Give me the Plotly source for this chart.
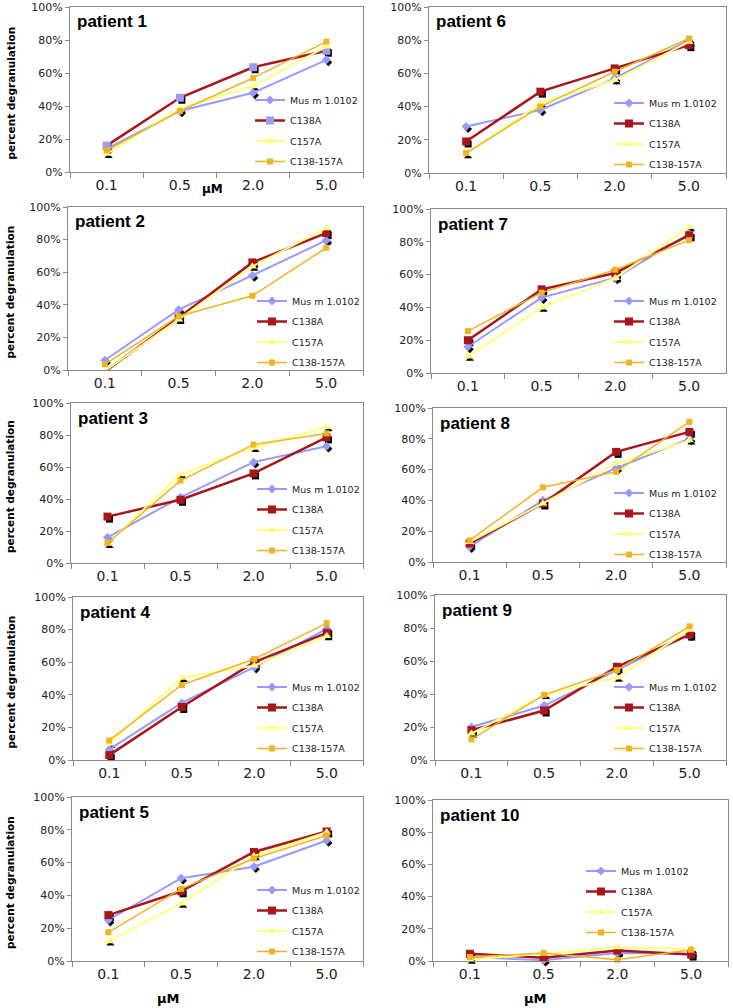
import plotly.graph_objects as go

# ---------------- data ----------------
concentrations = ["0.1", "0.5", "2.0", "5.0"]
series_names = ["Mus m 1.0102", "C138A", "C157A", "C138-157A"]
patients = ["patient 1", "patient 2", "patient 3", "patient 4", "patient 5",
            "patient 6", "patient 7", "patient 8", "patient 9", "patient 10"]

# percent degranulation, one row per patient (patient 1 .. patient 10)
mus_m = [
    [14, 37, 48, 68],
    [6, 37, 58, 79.5],
    [16, 41, 63, 73],
    [6.5, 35, 57, 80.5],
    [25, 50.5, 57.5, 73.5],
    [28, 38, 57, 80],
    [16, 46, 58, 85],
    [10, 40, 61, 80],
    [20, 33, 54.5, 76],
    [2.5, 0.5, 5, 4.5],
]
c138a = [
    [16, 45, 63.5, 73.5],
    [-1, 32, 66, 84],
    [29, 39.5, 56, 78.5],
    [3, 32.5, 60, 78],
    [28, 42.5, 66.5, 79],
    [19, 49, 63, 77],
    [20, 51, 61, 84],
    [12, 38, 71.5, 84.5],
    [18, 30, 56.5, 76],
    [4.5, 2, 6.5, 4],
]
c157a = [
    [11, 38.5, 52, 76],
    [-0.5, 31, 63.5, 87],
    [12, 55.5, 72, 85],
    [10, 50.5, 58, 76],
    [12, 35, 64, 78.5],
    [11.5, 42, 56, 79],
    [10, 40, 58, 89],
    [13, 38, 64, 79],
    [16, 39.5, 50, 79],
    [1, 4.5, 8.5, 7.5],
]
c138_157a = [
    [13, 37, 57, 79],
    [3.5, 33, 45.5, 75],
    [12.5, 51.5, 74, 81],
    [12, 46, 62, 84],
    [17.5, 44, 62.5, 76.5],
    [12, 40, 61, 81],
    [25.5, 49, 63, 81],
    [14, 48.5, 58.5, 91],
    [12.5, 39.5, 54.5, 81],
    [2.5, 5, 0.8, 7],
]
all_series = [mus_m, c138a, c157a, c138_157a]

# ---------------- styles / layout ----------------
W, H = 733, 1008
colors = ["#9999FF", "#A8161C", "#FFFF80", "#F0B420"]
symbols = ["diamond", "square", "triangle-up", "square"]
msizes = [7, 8, 8, 6]
lwidths = [2, 2.5, 2, 1.5]
shadow_series = [True, True, True, False]

# plot-area boxes in pixels: left, right, top, bottom
panel_boxes = [
    (70, 363, 7, 172), (68, 363, 207, 370), (71, 363, 403, 563),
    (73, 363, 597, 760), (72, 363, 797, 961),
    (429, 726, 7, 173), (431, 726, 209, 373), (433, 726, 408, 562),
    (435, 726, 595, 760), (433, 728, 800, 961),
]
# legend: text left x, first item centre y (pixels)
legend_pos = [(290, 101), (292, 302), (292, 490), (292, 688), (292, 891),
              (649, 104), (649, 302), (649, 494), (649, 688), (621, 872)]

FONT = "DejaVu Sans"
AX = "#8a8a8a"


def axname(kind, idx):
    return f"{kind}axis" if idx == 1 else f"{kind}axis{idx}"


def axref(kind, idx):
    return kind if idx == 1 else f"{kind}{idx}"


fig = go.Figure()
layout = dict(
    width=W, height=H, margin=dict(l=0, r=0, t=0, b=0, pad=0, autoexpand=False),
    paper_bgcolor="white", plot_bgcolor="rgba(0,0,0,0)",
    font=dict(family=FONT, color="#222"),
    showlegend=True,
)
annotations = []

for p in range(10):
    l, r, t, b = panel_boxes[p]
    sh = p + 1       # shadow subplot (drawn first, underneath)
    mn = p + 11      # main subplot
    dx, dy = 2, 2.5
    layout[axname("x", sh)] = dict(
        domain=[(l + dx) / W, (r + dx) / W], anchor=axref("y", sh),
        type="category", categoryarray=concentrations, range=[-0.5, 3.5],
        visible=False)
    layout[axname("y", sh)] = dict(
        domain=[1 - (b + dy) / H, 1 - (t + dy) / H], anchor=axref("x", sh),
        range=[0, 100], visible=False)
    layout[axname("x", mn)] = dict(
        domain=[l / W, r / W], anchor=axref("y", mn),
        type="category", categoryarray=concentrations, range=[-0.5, 3.5],
        showline=True, linecolor=AX, linewidth=1, mirror=True,
        ticks="outside", tickson="boundaries", ticklen=5, tickcolor=AX,
        tickfont=dict(size=14, color="#222", family=FONT),
        showgrid=False, zeroline=False, fixedrange=True, automargin=False)
    layout[axname("y", mn)] = dict(
        domain=[1 - b / H, 1 - t / H], anchor=axref("x", mn),
        range=[0, 100], dtick=20, ticksuffix="%",
        showline=True, linecolor=AX, linewidth=1, mirror=True,
        ticks="outside", ticklen=4, tickcolor=AX,
        tickfont=dict(size=11, color="#222", family=FONT),
        showgrid=False, zeroline=False, fixedrange=True, automargin=False)

    lg = "legend" if p == 0 else f"legend{p + 1}"
    tx, ty = legend_pos[p]
    layout[lg] = dict(
        x=(tx - 40) / W, y=1 - (ty - 15.5) / H, xanchor="left", yanchor="top",
        xref="paper", yref="paper", bgcolor="rgba(0,0,0,0)",
        font=dict(family=FONT, size=9.5, color="#222"),
        tracegroupgap=1.5, traceorder="grouped", itemwidth=30)

    for s in range(4):
        yvals = all_series[s][p]
        if shadow_series[s]:
            fig.add_trace(go.Scatter(
                x=concentrations, y=yvals, mode="markers",
                xaxis=axref("x", sh), yaxis=axref("y", sh),
                marker=dict(symbol=symbols[s], size=msizes[s] - 1, color="black"),
                showlegend=False, hoverinfo="skip", cliponaxis=False))

for p in range(10):
    mn = p + 11
    lg = "legend" if p == 0 else f"legend{p + 1}"
    for s in range(4):
        yvals = all_series[s][p]
        mcolor = colors[s]
        if p == 0 and s == 1:
            mcolor = "#9C9CF2"  # patient 1: C138A markers appear lavender
        fig.add_trace(go.Scatter(
            x=concentrations, y=yvals, mode="lines+markers", name=series_names[s],
            xaxis=axref("x", mn), yaxis=axref("y", mn),
            line=dict(color=colors[s], width=lwidths[s]),
            marker=dict(symbol=symbols[s], size=msizes[s], color=mcolor),
            legend=lg, legendgroup=f"p{p}_{s}", cliponaxis=False))

    # patient label
    annotations.append(dict(
        text=f"<b>{patients[p]}</b>", xref=f"{axref('x', mn)} domain",
        yref=f"{axref('y', mn)} domain",
        x=0, y=1, xshift=5, yshift=-15, xanchor="left", yanchor="middle",
        showarrow=False, font=dict(family="Liberation Sans", size=17, color="black"),
        bgcolor="white"))

# y titles (left column)
for p in range(5):
    l, r, t, b = panel_boxes[p]
    annotations.append(dict(
        text="<b>percent degranulation</b>", xref="paper", yref="paper",
        x=10 / W, y=1 - ((t + b) / 2 + 4) / H, textangle=-90,
        xanchor="center", yanchor="middle", showarrow=False,
        font=dict(family=FONT, size=10.5, color="black")))

# unit labels
for (ux, uy, usz) in [(213, 189, 12), (168, 998, 13), (535, 998, 13)]:
    annotations.append(dict(
        text="<b>µM</b>", xref="paper", yref="paper", x=ux / W, y=1 - uy / H,
        xanchor="center", yanchor="middle", showarrow=False,
        font=dict(family=FONT, size=usz, color="black")))

layout["annotations"] = annotations
fig.update_layout(**layout)
fig.write_html("out.html",
               config={"displayModeBar": False, "staticPlot": True},
               post_script="document.body.style.margin='0px';"
                           "document.body.style.overflow='hidden';")
